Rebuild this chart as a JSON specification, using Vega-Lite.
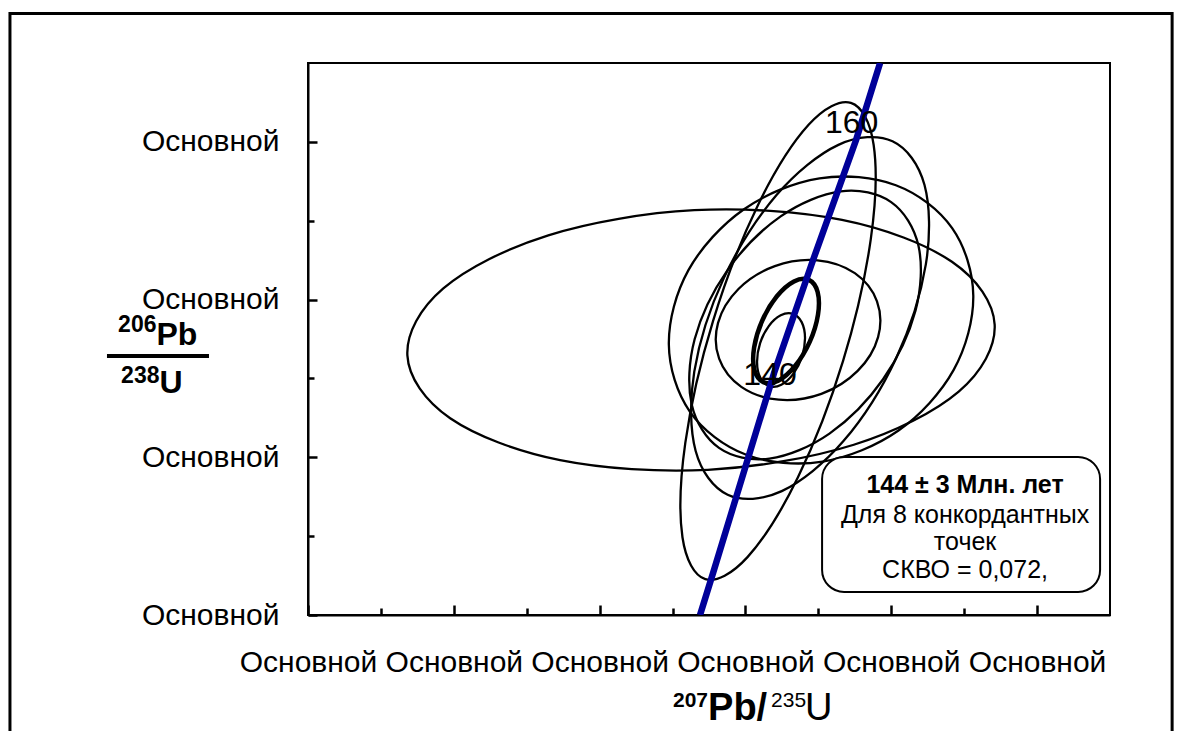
{
  "$schema": "https://vega.github.io/schema/vega-lite/v6.json",
  "width": 802,
  "height": 552,
  "autosize": {"type": "none"},
  "padding": {"left": 308, "top": 63, "right": 74, "bottom": 116},
  "background": "white",
  "config": {
    "view": {"stroke": "black", "strokeWidth": 2},
    "font": "Liberation Sans",
    "text": {"font": "Liberation Sans", "color": "black"}
  },
  "datasets": {
    "ellipses": [
      {"id": "A", "i": 0, "x": 9.418, "y": 3.682}, {"id": "A", "i": 1, "x": 8.925, "y": 2.833}, {"id": "A", "i": 2, "x": 7.486, "y": 2.159}, {"id": "A", "i": 3, "x": 5.484, "y": 1.841}, {"id": "A", "i": 4, "x": 3.458, "y": 1.964}, {"id": "A", "i": 5, "x": 1.950, "y": 2.495}, {"id": "A", "i": 6, "x": 1.363, "y": 3.292}, {"id": "A", "i": 7, "x": 1.856, "y": 4.141}, {"id": "A", "i": 8, "x": 3.296, "y": 4.815}, {"id": "A", "i": 9, "x": 5.298, "y": 5.133}, {"id": "A", "i": 10, "x": 7.324, "y": 5.010}, {"id": "A", "i": 11, "x": 8.832, "y": 4.479},
      {"id": "B", "i": 0, "x": 6.869, "y": 4.250}, {"id": "B", "i": 1, "x": 6.990, "y": 4.096}, {"id": "B", "i": 2, "x": 6.995, "y": 3.810}, {"id": "B", "i": 3, "x": 6.883, "y": 3.467}, {"id": "B", "i": 4, "x": 6.683, "y": 3.161}, {"id": "B", "i": 5, "x": 6.449, "y": 2.972}, {"id": "B", "i": 6, "x": 6.245, "y": 2.953}, {"id": "B", "i": 7, "x": 6.123, "y": 3.107}, {"id": "B", "i": 8, "x": 6.119, "y": 3.393}, {"id": "B", "i": 9, "x": 6.231, "y": 3.735}, {"id": "B", "i": 10, "x": 6.431, "y": 4.042}, {"id": "B", "i": 11, "x": 6.665, "y": 4.230},
      {"id": "C", "i": 0, "x": 6.649, "y": 3.819}, {"id": "C", "i": 1, "x": 6.771, "y": 3.714}, {"id": "C", "i": 2, "x": 6.817, "y": 3.515}, {"id": "C", "i": 3, "x": 6.775, "y": 3.274}, {"id": "C", "i": 4, "x": 6.656, "y": 3.057}, {"id": "C", "i": 5, "x": 6.492, "y": 2.920}, {"id": "C", "i": 6, "x": 6.327, "y": 2.902}, {"id": "C", "i": 7, "x": 6.205, "y": 3.007}, {"id": "C", "i": 8, "x": 6.159, "y": 3.206}, {"id": "C", "i": 9, "x": 6.201, "y": 3.447}, {"id": "C", "i": 10, "x": 6.320, "y": 3.664}, {"id": "C", "i": 11, "x": 6.484, "y": 3.800},
      {"id": "D", "i": 0, "x": 7.804, "y": 3.978}, {"id": "D", "i": 1, "x": 7.819, "y": 3.524}, {"id": "D", "i": 2, "x": 7.539, "y": 3.095}, {"id": "D", "i": 3, "x": 7.041, "y": 2.804}, {"id": "D", "i": 4, "x": 6.456, "y": 2.730}, {"id": "D", "i": 5, "x": 5.943, "y": 2.893}, {"id": "D", "i": 6, "x": 5.639, "y": 3.250}, {"id": "D", "i": 7, "x": 5.624, "y": 3.704}, {"id": "D", "i": 8, "x": 5.904, "y": 4.134}, {"id": "D", "i": 9, "x": 6.403, "y": 4.424}, {"id": "D", "i": 10, "x": 6.987, "y": 4.498}, {"id": "D", "i": 11, "x": 7.500, "y": 4.335},
      {"id": "E", "i": 0, "x": 7.446, "y": 6.494}, {"id": "E", "i": 1, "x": 7.758, "y": 5.963}, {"id": "E", "i": 2, "x": 7.719, "y": 4.766}, {"id": "E", "i": 3, "x": 7.339, "y": 3.222}, {"id": "E", "i": 4, "x": 6.720, "y": 1.746}, {"id": "E", "i": 5, "x": 6.028, "y": 0.734}, {"id": "E", "i": 6, "x": 5.449, "y": 0.455}, {"id": "E", "i": 7, "x": 5.136, "y": 0.986}, {"id": "E", "i": 8, "x": 5.175, "y": 2.183}, {"id": "E", "i": 9, "x": 5.555, "y": 3.727}, {"id": "E", "i": 10, "x": 6.174, "y": 5.203}, {"id": "E", "i": 11, "x": 6.866, "y": 6.216},
      {"id": "F", "i": 0, "x": 8.017, "y": 6.007}, {"id": "F", "i": 1, "x": 8.456, "y": 5.452}, {"id": "F", "i": 2, "x": 8.474, "y": 4.446}, {"id": "F", "i": 3, "x": 8.067, "y": 3.257}, {"id": "F", "i": 4, "x": 7.344, "y": 2.205}, {"id": "F", "i": 5, "x": 6.498, "y": 1.571}, {"id": "F", "i": 6, "x": 5.756, "y": 1.525}, {"id": "F", "i": 7, "x": 5.317, "y": 2.080}, {"id": "F", "i": 8, "x": 5.298, "y": 3.087}, {"id": "F", "i": 9, "x": 5.705, "y": 4.275}, {"id": "F", "i": 10, "x": 6.429, "y": 5.328}, {"id": "F", "i": 11, "x": 7.275, "y": 5.962},
      {"id": "G", "i": 0, "x": 8.835, "y": 4.905}, {"id": "G", "i": 1, "x": 9.125, "y": 4.047}, {"id": "G", "i": 2, "x": 8.856, "y": 3.108}, {"id": "G", "i": 3, "x": 8.099, "y": 2.339}, {"id": "G", "i": 4, "x": 7.058, "y": 1.945}, {"id": "G", "i": 5, "x": 6.011, "y": 2.032}, {"id": "G", "i": 6, "x": 5.239, "y": 2.577}, {"id": "G", "i": 7, "x": 4.949, "y": 3.434}, {"id": "G", "i": 8, "x": 5.218, "y": 4.373}, {"id": "G", "i": 9, "x": 5.975, "y": 5.143}, {"id": "G", "i": 10, "x": 7.016, "y": 5.537}, {"id": "G", "i": 11, "x": 8.063, "y": 5.450},
      {"id": "H", "i": 0, "x": 7.998, "y": 5.236}, {"id": "H", "i": 1, "x": 8.373, "y": 4.681}, {"id": "H", "i": 2, "x": 8.332, "y": 3.858}, {"id": "H", "i": 3, "x": 7.885, "y": 2.986}, {"id": "H", "i": 4, "x": 7.152, "y": 2.300}, {"id": "H", "i": 5, "x": 6.329, "y": 1.983}, {"id": "H", "i": 6, "x": 5.637, "y": 2.119}, {"id": "H", "i": 7, "x": 5.262, "y": 2.674}, {"id": "H", "i": 8, "x": 5.303, "y": 3.497}, {"id": "H", "i": 9, "x": 5.750, "y": 4.368}, {"id": "H", "i": 10, "x": 6.483, "y": 5.055}, {"id": "H", "i": 11, "x": 7.306, "y": 5.372}
    ],
    "concordia": [
      {"x": 5.3772, "y": 0}, {"x": 5.5556, "y": 0.5326}, {"x": 6.3923, "y": 3.0687}, {"x": 6.9273, "y": 4.5016}, {"x": 7.5171, "y": 6.0233}, {"x": 7.8464, "y": 7.0}
    ],
    "ages": [
      {"text": "140", "x": 6.3374, "y": 2.9166},
      {"text": "160", "x": 7.4554, "y": 6.1121}
    ],
    "box": [
      {"x": 7.051, "x2": 10.864, "y": 2.004, "y2": 0.292}
    ],
    "note": [
      {"kind": "head", "text": "144 ± 3 Млн. лет", "x": 9.012, "y": 1.547},
      {"kind": "body", "text": "Для 8 конкордантных", "x": 9.012, "y": 1.167},
      {"kind": "body", "text": "точек", "x": 9.012, "y": 0.824},
      {"kind": "body", "text": "СКВО = 0,072,", "x": 9.012, "y": 0.469}
    ],
    "titles": [
      {"part": "ysup", "text": "206", "x": -2.0782, "y": 3.5886},
      {"part": "ysup", "text": "238", "x": -2.0370, "y": 2.9419},
      {"part": "ybig", "text": "Pb", "x": -2.0782, "y": 3.4238},
      {"part": "ybig", "text": "U", "x": -2.0370, "y": 2.8151},
      {"part": "xsupb", "text": "207", "x": 5.4870, "y": -1.1666},
      {"part": "xbigb", "text": "Pb/", "x": 5.4870, "y": -1.3315},
      {"part": "xsupr", "text": "235", "x": 6.3512, "y": -1.1666},
      {"part": "xbigr", "text": "U", "x": 6.8176, "y": -1.3315}
    ],
    "fraction": [
      {"x": -2.7572, "x2": -1.3580, "y": 3.2843}
    ],
    "frame": [
      {"x": -4.0878, "x2": 11.852, "y": 7.6274, "y2": -1.648}
    ]
  },
  "encoding": {
    "x": {
      "field": "x", "type": "quantitative",
      "scale": {"domain": [0, 11], "nice": false, "zero": false},
      "axis": {
        "title": null, "grid": false,
        "values": [0, 1, 2, 3, 4, 5, 6, 7, 8, 9, 10],
        "labelExpr": "datum.value % 2 === 0 ? 'Основной' : ''",
        "labelFont": "Liberation Sans", "labelFontSize": 30, "labelColor": "black",
        "labelBaseline": "top", "labelPadding": 42, "labelFlush": false, "labelOverlap": false, "labelBound": false,
        "tickSize": {"condition": {"test": "datum.value % 2 === 0", "value": -10}, "value": -7},
        "tickColor": "black", "tickWidth": 2.5,
        "domainColor": "black", "domainWidth": 2
      }
    },
    "y": {
      "field": "y", "type": "quantitative",
      "scale": {"domain": [0, 7], "nice": false, "zero": false},
      "axis": {
        "title": null, "grid": false,
        "values": [0, 1, 2, 3, 4, 5, 6],
        "labelExpr": "datum.value % 2 === 0 ? 'Основной' : ''",
        "labelFont": "Liberation Sans", "labelFontSize": 30, "labelColor": "black",
        "labelPadding": 38, "labelFlush": false, "labelOverlap": false, "labelBound": false,
        "tickSize": {"condition": {"test": "datum.value % 2 === 0", "value": -9}, "value": -6},
        "tickColor": "black", "tickWidth": 2.5,
        "domainColor": "black", "domainWidth": 2
      }
    }
  },
  "layer": [
    {
      "data": {"name": "frame"},
      "mark": {"type": "rect", "filled": false, "stroke": "black", "strokeWidth": 3, "clip": false},
      "encoding": {"x2": {"field": "x2"}, "y2": {"field": "y2"}}
    },
    {
      "data": {"name": "ellipses"},
      "transform": [{"filter": "datum.id !== 'B'"}],
      "mark": {"type": "line", "interpolate": "cardinal-closed", "color": "black", "strokeWidth": 2.3},
      "encoding": {"detail": {"field": "id"}, "order": {"field": "i", "type": "quantitative"}}
    },
    {
      "data": {"name": "ellipses"},
      "transform": [{"filter": "datum.id === 'B'"}],
      "mark": {"type": "line", "interpolate": "cardinal-closed", "color": "black", "strokeWidth": 4.5},
      "encoding": {"detail": {"field": "id"}, "order": {"field": "i", "type": "quantitative"}}
    },
    {
      "data": {"name": "concordia"},
      "mark": {"type": "line", "color": "#000099", "strokeWidth": 6.5, "clip": true},
      "encoding": {"order": {"field": "y", "type": "quantitative"}}
    },
    {
      "data": {"name": "ages"},
      "mark": {"type": "text", "fontSize": 32, "align": "center", "baseline": "alphabetic"},
      "encoding": {"text": {"field": "text"}}
    },
    {
      "data": {"name": "box"},
      "mark": {"type": "rect", "fill": "white", "stroke": "black", "strokeWidth": 2, "cornerRadius": 22},
      "encoding": {"x2": {"field": "x2"}, "y2": {"field": "y2"}}
    },
    {
      "data": {"name": "note"},
      "transform": [{"filter": "datum.kind === 'head'"}],
      "mark": {"type": "text", "fontSize": 25, "fontWeight": "bold", "align": "center", "baseline": "alphabetic"},
      "encoding": {"text": {"field": "text"}}
    },
    {
      "data": {"name": "note"},
      "transform": [{"filter": "datum.kind === 'body'"}],
      "mark": {"type": "text", "fontSize": 25, "align": "center", "baseline": "alphabetic"},
      "encoding": {"text": {"field": "text"}}
    },
    {
      "data": {"name": "titles"},
      "transform": [{"filter": "datum.part === 'ysup'"}],
      "mark": {"type": "text", "fontSize": 23, "fontWeight": "bold", "align": "right", "baseline": "alphabetic"},
      "encoding": {"text": {"field": "text"}}
    },
    {
      "data": {"name": "titles"},
      "transform": [{"filter": "datum.part === 'ybig'"}],
      "mark": {"type": "text", "fontSize": 32, "fontWeight": "bold", "align": "left", "baseline": "alphabetic"},
      "encoding": {"text": {"field": "text"}}
    },
    {
      "data": {"name": "titles"},
      "transform": [{"filter": "datum.part === 'xsupb'"}],
      "mark": {"type": "text", "fontSize": 21, "fontWeight": "bold", "align": "right", "baseline": "alphabetic"},
      "encoding": {"text": {"field": "text"}}
    },
    {
      "data": {"name": "titles"},
      "transform": [{"filter": "datum.part === 'xbigb'"}],
      "mark": {"type": "text", "fontSize": 38, "fontWeight": "bold", "align": "left", "baseline": "alphabetic"},
      "encoding": {"text": {"field": "text"}}
    },
    {
      "data": {"name": "titles"},
      "transform": [{"filter": "datum.part === 'xsupr'"}],
      "mark": {"type": "text", "fontSize": 21, "align": "left", "baseline": "alphabetic"},
      "encoding": {"text": {"field": "text"}}
    },
    {
      "data": {"name": "titles"},
      "transform": [{"filter": "datum.part === 'xbigr'"}],
      "mark": {"type": "text", "fontSize": 38, "align": "left", "baseline": "alphabetic"},
      "encoding": {"text": {"field": "text"}}
    },
    {
      "data": {"name": "fraction"},
      "mark": {"type": "rule", "color": "black", "strokeWidth": 4},
      "encoding": {"x2": {"field": "x2"}}
    }
  ]
}
